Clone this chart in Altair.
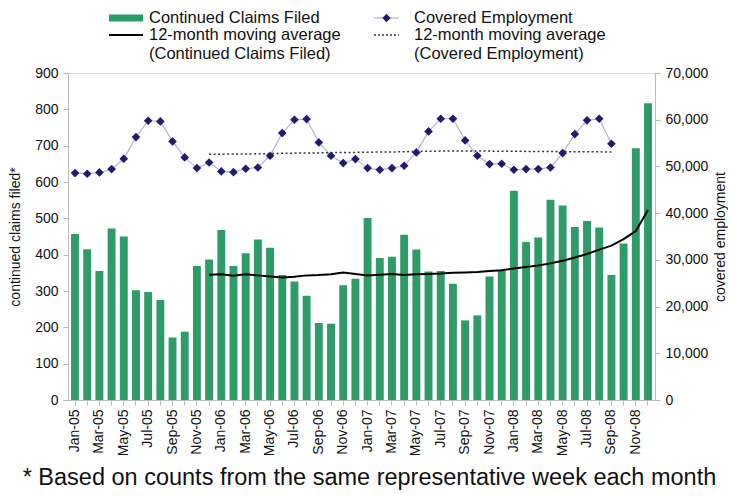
import altair as alt
import pandas as pd

# ---------------- data ----------------
month_names = ["Jan", "Feb", "Mar", "Apr", "May", "Jun",
               "Jul", "Aug", "Sep", "Oct", "Nov", "Dec"]
years = ["05", "06", "07", "08"]
months = [f"{m}-{y}" for y in years for m in month_names]

claims = [457, 415, 355, 472, 450, 302, 297, 275, 172, 188, 369, 387,
          468, 369, 404, 442, 419, 344, 326, 287, 212, 210, 316, 334,
          501, 391, 394, 455, 414, 354, 355, 320, 219, 233, 340, 356,
          576, 435, 447, 551, 535, 476, 493, 475, 344, 431, 693, 817]

# 12-month moving average of claims, Dec-05 .. Dec-08
claims_ma = [345, 346, 342, 346, 343, 340, 337, 339, 343, 344, 346, 351,
             347, 343, 345, 347, 344, 346, 347, 348, 350, 351, 352, 355,
             357, 362, 366, 370, 376, 383, 392, 402, 414, 425, 443, 465, 523]

# covered employment, Jan-05 .. Sep-08
employment = [48570, 48430, 48710, 49430, 51640, 56280, 59780, 59640, 55350, 51930, 49640, 50850,
              48930, 48780, 49500, 49780, 52280, 57140, 60000, 60140, 55140, 52280, 50710, 51570,
              49640, 49280, 49640, 50140, 53000, 57500, 60210, 60210, 55570, 52280, 50500, 50570,
              49280, 49430, 49430, 49780, 52850, 56930, 59860, 60210, 54850]

# 12-month moving average of covered employment, Dec-05 .. Sep-08
employment_ma = [52600, 52620, 52650, 52680, 52700, 52750, 52800, 52850, 52880, 52900,
                 52950, 52980, 53000, 53050, 53080, 53100, 53150, 53200, 53250, 53280,
                 53300, 53300, 53300, 53280, 53250, 53250, 53220, 53200, 53200, 53180,
                 53150, 53150, 53120, 53100]

legend_labels = ["Continued Claims Filed", "Covered Employment",
                 "12-month moving average", "(Continued Claims Filed)",
                 "12-month moving average", "(Covered Employment)"]
footnote = "* Based on counts from the same representative week each month"

GREEN = "#2e9b69"
NAVY = "#1f1c6e"
LAVENDER = "#b3b3d6"
FONT = "Liberation Sans"
TXT = "#111111"
AX = "#bbbbbb"

df_claims = pd.DataFrame({"month": months, "value": claims})
df_cma = pd.DataFrame({"month": months[11:11 + len(claims_ma)], "value": claims_ma})
df_emp = pd.DataFrame({"month": months[:len(employment)], "value": employment})
df_ema = pd.DataFrame({"month": months[11:11 + len(employment_ma)], "value": employment_ma})
one = pd.DataFrame({"k": [0]})

x_enc = alt.X(
    "month:O",
    sort=months,
    scale=alt.Scale(domain=months, paddingInner=0.35, paddingOuter=0.25),
    axis=alt.Axis(
        title=None,
        labelAngle=270,
        labelFont=FONT,
        labelFontSize=14,
        labelColor=TXT,
        labelPadding=4,
        labelExpr="indexof(['Jan','Mar','May','Jul','Sep','Nov'], slice(datum.value, 0, 3)) >= 0 ? datum.value : ''",
        tickSize=5,
        tickColor=AX,
        domainColor=AX,
    ),
)

left_axis = alt.Axis(
    title="continued claims filed*",
    titleFont=FONT,
    titleFontSize=14,
    titleFontWeight="normal",
    titleColor=TXT,
    titlePadding=12,
    labelFont=FONT,
    labelFontSize=14,
    labelColor=TXT,
    labelPadding=5,
    values=list(range(0, 901, 100)),
    tickSize=5,
    tickColor=AX,
    domainColor=AX,
    grid=False,
)

right_axis = alt.Axis(
    title="covered employment",
    orient="right",
    labelExpr="format(datum.value, ',')",
    titleFont=FONT,
    titleFontSize=14,
    titleFontWeight="normal",
    titleColor=TXT,
    titleAngle=270,
    titleBaseline="top",
    titlePadding=6,
    labelFont=FONT,
    labelFontSize=14,
    labelColor=TXT,
    labelPadding=5,
    values=list(range(0, 70001, 10000)),
    tickSize=5,
    tickColor=AX,
    domainColor=AX,
    grid=False,
)

y_left = alt.Y("value:Q", scale=alt.Scale(domain=[0, 900], nice=False), axis=left_axis)
y_right = alt.Y("value:Q", scale=alt.Scale(domain=[0, 70000], nice=False), axis=right_axis)

bars = alt.Chart(df_claims).mark_bar(color=GREEN).encode(x=x_enc, y=y_left)
cma_line = alt.Chart(df_cma).mark_line(strokeWidth=2, color="#000000").encode(x=x_enc, y=y_left)
emp_line = alt.Chart(df_emp).mark_line(strokeWidth=1.2, color=LAVENDER).encode(x=x_enc, y=y_right)
emp_pts = alt.Chart(df_emp).mark_point(shape="diamond", filled=True, size=75, opacity=1,
                                       color=NAVY).encode(x=x_enc, y=y_right)
ema_line = alt.Chart(df_ema).mark_line(strokeWidth=1.5, strokeDash=[2, 2.5],
                                       color="#333333").encode(x=x_enc, y=y_right)

left = alt.layer(bars, cma_line)
right = alt.layer(emp_line, emp_pts, ema_line)

# ---------------- legend (drawn in the space above the plot) ----------------
R0, R1, R2 = -55, -38, -19
C0_SYM, C0_TXT = (41, 75), 81
C1_SYM, C1_TXT = (306, 331), 346

leg = []
leg.append(alt.Chart(one).mark_rect(color=GREEN).encode(
    x=alt.value(C0_SYM[0]), x2=alt.value(C0_SYM[1]), y=alt.value(R0 - 3.5), y2=alt.value(R0 + 3.5)))
leg.append(alt.Chart(one).mark_rule(color="#000000", strokeWidth=2).encode(
    x=alt.value(C0_SYM[0]), x2=alt.value(C0_SYM[1]), y=alt.value(R1)))
leg.append(alt.Chart(one).mark_rule(color=LAVENDER, strokeWidth=1.2).encode(
    x=alt.value(C1_SYM[0]), x2=alt.value(C1_SYM[1]), y=alt.value(R0)))
leg.append(alt.Chart(one).mark_point(shape="diamond", filled=True, size=70, opacity=1, color=NAVY).encode(
    x=alt.value((C1_SYM[0] + C1_SYM[1]) / 2), y=alt.value(R0)))
leg.append(alt.Chart(one).mark_rule(color="#333333", strokeWidth=1.5, strokeDash=[2, 2]).encode(
    x=alt.value(C1_SYM[0]), x2=alt.value(C1_SYM[1]), y=alt.value(R1)))

label_pos = [(C0_TXT, R0), (C1_TXT, R0), (C0_TXT, R1), (C0_TXT, R2), (C1_TXT, R1), (C1_TXT, R2)]
for text, (lx, ly) in zip(legend_labels, label_pos):
    leg.append(alt.Chart(one).mark_text(align="left", baseline="middle", font=FONT,
                                        fontSize=16.5, color=TXT).encode(
        x=alt.value(lx), y=alt.value(ly), text=alt.value(text)))

chart = alt.layer(left, right, *leg).resolve_scale(y="independent").properties(
    width=587,
    height=327,
    title=alt.TitleParams(
        text=footnote,
        orient="bottom",
        anchor="start",
        frame="bounds",
        dx=14,
        offset=10,
        font=FONT,
        fontSize=23.5,
        fontWeight="normal",
        color=TXT,
    ),
).configure_view(stroke="#cccccc").configure(
    background="white", padding={"left": 0, "top": 2, "right": 0, "bottom": 0})

chart.save("out.html", embed_options={"renderer": "svg", "actions": False})
